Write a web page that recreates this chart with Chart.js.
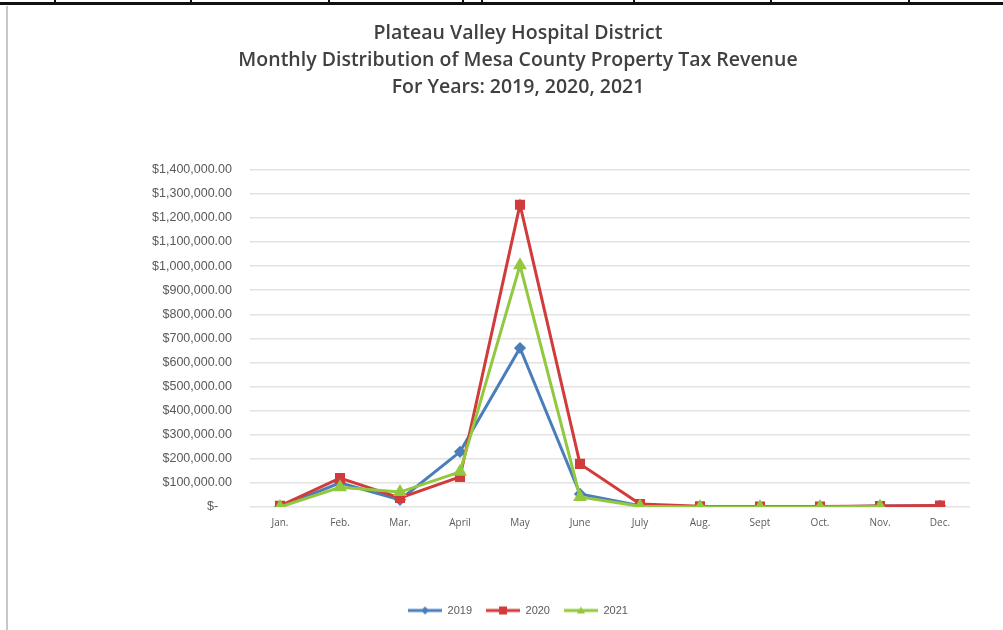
<!DOCTYPE html>
<html>
<head>
<meta charset="utf-8">
<script src="https://cdn.jsdelivr.net/npm/chart.js@4.4.0/dist/chart.umd.min.js"></script>
<style>
  html, body { margin: 0; padding: 0; background: #fff; }
  #wrap { position: relative; width: 1003px; height: 630px; overflow: hidden; }
  #topline { position: absolute; left: 0; top: 2px; width: 1003px; height: 3px; background: #111; }
  .tick { position: absolute; top: 0; width: 2px; height: 4px; background: #111; }
  #leftline { position: absolute; left: 6px; top: 6px; width: 2px; height: 624px; background: #c8c8c8; }
  canvas { position: absolute; left: 0; top: 0; }
</style>
</head>
<body>
<div id="wrap">
  <canvas id="tax-chart" width="1003" height="630"></canvas>
  <div id="topline"></div>
  <div class="tick" style="left:54px"></div>
  <div class="tick" style="left:190px"></div>
  <div class="tick" style="left:328px"></div>
  <div class="tick" style="left:462px"></div>
  <div class="tick" style="left:481px"></div>
  <div class="tick" style="left:633px"></div>
  <div class="tick" style="left:770px"></div>
  <div class="tick" style="left:908px"></div>
  <div id="leftline"></div>
</div>
<script>
const months = ["Jan.", "Feb.", "Mar.", "April", "May", "June", "July", "Aug.", "Sept", "Oct.", "Nov.", "Dec."]

// values (approx.)
const rev_2019 = [0, 100000, 30000, 229000, 660000, 54000, 5000, 0, 0, 0, 4000, 5000]
const rev_2020 = [5000, 120000, 38000, 125000, 1255000, 179000, 12000, 3000, 2000, 2000, 4000, 6000]
const rev_2021 = [0, 82000, 62000, 146000, 1003000, 42000, 3000, 0, 0, 0, 2000, null]

const title_lines = [
  "Plateau Valley Hospital District",
  "Monthly Distribution of Mesa County Property Tax Revenue",
  "For Years: 2019, 2020, 2021"
]

function money(v) {
  if (v === 0) return "$-    ";
  return "$" + v.toLocaleString("en-US", {minimumFractionDigits: 2, maximumFractionDigits: 2});
}

// little line + marker icon for the legend, like excel does
function legendIcon(color, style) {
  const c = document.createElement("canvas");
  c.width = 34;
  c.height = 10;
  const g = c.getContext("2d");
  g.strokeStyle = color;
  g.fillStyle = color;
  g.lineWidth = 3;
  g.beginPath();
  g.moveTo(0, 5);
  g.lineTo(34, 5);
  g.stroke();
  g.beginPath();
  if (style === "rect") {
    g.rect(13, 1, 8, 8);
  } else if (style === "rectRot") {
    g.moveTo(17, 1); g.lineTo(21, 5); g.lineTo(17, 9); g.lineTo(13, 5);
  } else {
    g.moveTo(17, 1); g.lineTo(21, 8); g.lineTo(13, 8);
  }
  g.closePath();
  g.fill();
  return c;
}

const ctx = document.getElementById("tax-chart").getContext("2d");

new Chart(ctx, {
  type: "line",
  data: {
    labels: months,
    datasets: [
      {
        label: "2019",
        data: rev_2019,
        borderColor: "#4a7ebb",
        backgroundColor: "#4a7ebb",
        pointStyle: "rectRot",
        pointRadius: 4,
        borderWidth: 3,
        order: 3
      },
      {
        label: "2020",
        data: rev_2020,
        borderColor: "#d13b3b",
        backgroundColor: "#d13b3b",
        pointStyle: "rect",
        pointRadius: 5,
        borderWidth: 3,
        order: 2
      },
      {
        label: "2021",
        data: rev_2021,
        borderColor: "#92c83e",
        backgroundColor: "#92c83e",
        pointStyle: "triangle",
        pointRadius: 5,
        borderWidth: 3,
        order: 1
      }
    ]
  },
  options: {
    responsive: false,
    animation: false,
    layout: {
      padding: {top: 20, left: 66, right: 33, bottom: 4}
    },
    plugins: {
      title: {
        display: true,
        text: title_lines,
        color: "#404040",
        font: {family: "Open Sans", size: 19.5, weight: "600", lineHeight: 1.38},
        padding: {top: 0, bottom: 69}
      },
      legend: {
        position: "bottom",
        labels: {
          usePointStyle: true,
          pointStyleWidth: 34,
          boxHeight: 10,
          color: "#595959",
          font: {family: "Liberation Sans", size: 11},
          padding: 14,
          sort: (a, b) => a.datasetIndex - b.datasetIndex,
          generateLabels: chart => {
            const items = Chart.defaults.plugins.legend.labels.generateLabels(chart);
            items.forEach(it => {
              const ds = chart.data.datasets[it.datasetIndex];
              it.pointStyle = legendIcon(ds.borderColor, ds.pointStyle);
            });
            return items;
          }
        }
      },
      tooltip: {enabled: false}
    },
    scales: {
      x: {
        offset: true,
        grid: {display: false},
        border: {display: false},
        ticks: {
          color: "#595959",
          font: {family: "Open Sans", size: 10},
          padding: 2
        },
        afterFit: s => { s.height = 84; }
      },
      y: {
        min: 0,
        max: 1400000,
        grid: {color: "#e2e2e2", lineWidth: 1.5, drawTicks: false},
        border: {display: false},
        ticks: {
          stepSize: 100000,
          color: "#595959",
          font: {family: "Liberation Sans", size: 12.5},
          padding: 18,
          callback: v => money(v)
        },
        afterFit: s => { s.width = 184; }
      }
    }
  }
});
</script>
</body>
</html>
